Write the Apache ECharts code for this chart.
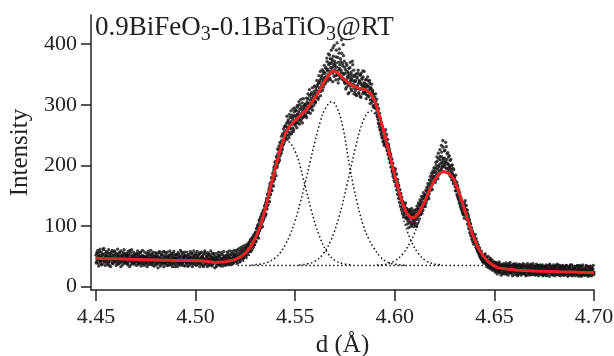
<!DOCTYPE html>
<html><head><meta charset="utf-8">
<script src="https://cdn.jsdelivr.net/npm/echarts@6/dist/echarts.min.js"></script>
<style>html,body{margin:0;padding:0;background:#fff}#c{width:614px;height:356px}</style>
</head><body><div id="c"></div>
<script>
// measured scan (two interleaved passes): d from start in steps of scanStep
const scanStart = 4.45;
const scanStep = 0.00025;
const intensity = [
52,41,47,55,44,38,49,58,45,42,50,36,47,53,43,61,46,40,48,55,
44,50,39,47,56,42,48,35,51,45,49,57,41,46,38,52,47,43,59,44,
48,40,53,45,37,50,44,55,42,47,33,51,46,49,41,56,45,39,50,47,
43,52,46,38,49,54,41,45,60,44,36,48,51,42,47,39,53,45,40,50,
46,41,55,43,48,37,52,44,49,40,57,45,38,47,51,43,35,50,46,42,
48,39,45,52,42,36,47,55,41,44,50,38,46,53,40,43,49,34,45,51,
42,47,38,51,44,40,56,43,37,48,45,41,52,39,46,43,58,40,44,49,
38,45,50,41,43,35,48,52,40,46,42,55,37,44,47,39,51,43,33,46,
47,41,44,53,39,45,36,49,42,50,44,38,57,43,40,46,35,48,52,41,
44,50,39,42,48,34,46,53,41,45,38,49,43,55,40,37,47,44,51,42,
40,46,52,43,37,49,44,41,54,39,45,48,36,50,43,47,33,46,42,56,
45,38,43,50,41,47,35,44,52,40,46,39,49,42,36,48,44,55,41,43,
39,46,42,35,48,43,40,51,37,45,41,53,38,44,47,34,42,49,40,46,
44,38,47,42,50,40,45,36,48,43,52,41,46,55,42,47,39,50,45,53,
46,52,43,49,55,44,50,47,58,45,53,49,61,48,55,51,46,59,53,57,
52,63,56,66,58,57,69,60,72,62,63,75,66,77,68,80,71,83,74,86,
76,89,81,95,85,99,90,104,94,108,100,113,103,117,108,122,112,127,118,132,
121,139,129,146,134,153,141,158,147,166,153,172,160,178,167,186,173,193,180,199,
188,207,196,213,200,219,205,225,211,229,216,236,220,241,228,233,250,236,255,243,
245,264,250,270,243,262,275,255,268,251,279,260,272,255,283,262,276,259,288,268,
282,265,290,271,284,296,270,288,277,300,281,273,294,286,303,279,291,284,298,288,
283,301,292,279,305,296,310,288,302,315,294,307,298,320,303,291,316,309,322,305,
318,305,325,312,331,318,309,336,322,340,326,315,343,331,349,324,338,355,333,345,
352,338,360,347,371,343,358,366,349,382,355,341,368,360,375,352,394,363,347,372,
364,348,379,355,402,351,370,342,385,360,347,376,357,407,344,368,352,381,339,362,
335,358,341,329,365,347,333,352,320,345,361,338,326,350,342,372,331,339,318,347,
322,340,331,315,346,327,352,335,318,338,325,349,312,333,344,329,356,321,336,330,
335,318,329,342,316,331,322,339,313,325,335,308,327,319,304,322,310,296,317,305,
312,298,305,287,296,280,291,270,285,263,277,258,266,250,262,245,256,240,249,236,
255,238,247,230,241,224,236,219,230,213,222,207,216,198,210,192,203,186,195,180,
190,174,184,168,176,163,172,157,166,150,160,145,154,139,148,133,141,128,136,122,
135,119,130,114,126,111,123,108,121,105,118,126,107,120,102,116,124,109,119,104,
106,121,110,124,99,127,115,130,117,134,122,137,125,141,128,145,131,148,135,151,
144,136,152,139,157,145,161,149,166,153,170,158,175,162,179,168,183,172,188,176,
181,195,176,200,188,207,193,183,211,198,190,215,203,194,222,205,197,230,208,199,
212,201,238,206,195,219,203,190,214,199,186,208,194,181,200,188,177,195,183,172,
181,165,174,158,169,152,163,147,158,142,151,137,146,131,141,126,136,121,130,118,
138,124,133,117,127,111,121,105,115,100,108,94,103,88,97,83,92,79,87,74,
82,71,77,65,73,61,69,58,65,54,61,51,57,48,54,45,52,43,49,41,
51,43,47,39,46,36,44,40,35,42,33,39,45,31,37,34,40,29,36,33,
30,37,27,34,25,39,31,28,35,23,32,38,26,30,34,22,29,36,27,31,
33,24,30,36,21,28,34,26,31,38,23,29,32,25,35,27,22,30,37,26,
24,31,27,35,22,29,33,20,28,36,25,30,23,34,27,21,32,26,38,24,
29,22,33,26,19,31,27,35,24,28,21,32,25,37,23,30,27,20,34,26,
23,30,26,33,20,28,35,24,29,22,31,27,36,21,26,32,24,29,19,33,
27,21,32,25,30,18,28,34,23,29,26,37,22,31,24,28,20,33,26,30,
22,29,25,34,20,27,31,23,36,26,19,30,24,28,33,21,27,35,23,29,
26,20,31,24,28,35,22,27,19,30,25,33,21,29,24,36,18,27,31,23,
25,31,21,28,24,34,19,26,30,22,27,35,20,25,29,17,28,32,23,26,
22,28,19,31,25,21,27,33,20,26,23,30,18,27,24,32,21,25,29,22,
24
];
const scan2Start = 4.450125;
const intensity2 = [
39,56,45,60,50,34,53,44,62,41,57,48,37,54,46,63,42,51,35,49,
58,43,52,36,47,61,40,55,49,33,54,45,60,38,50,44,57,41,53,47,
35,55,48,62,42,51,38,57,46,40,59,43,52,36,54,47,61,44,39,53,
55,40,49,36,58,45,52,33,47,56,42,61,39,50,45,57,37,48,54,41,
52,35,47,59,40,54,44,38,56,48,34,51,43,60,39,50,46,57,37,49,
40,55,33,49,58,45,38,52,43,60,36,47,54,41,57,35,50,44,39,56,
50,36,55,44,31,49,42,58,47,34,53,40,56,45,37,51,33,48,57,39,
54,41,35,57,46,50,39,44,59,36,52,43,49,33,55,42,58,38,47,53,
36,52,48,33,56,41,54,39,47,60,35,51,44,38,55,49,42,57,34,50,
51,38,57,45,34,53,40,49,36,58,47,42,55,33,50,44,59,37,52,46,
55,35,44,58,48,38,53,41,33,56,46,39,57,43,51,35,54,40,59,45,
37,53,49,33,56,40,54,45,36,51,59,42,34,55,47,38,53,44,31,50,
48,33,55,44,38,51,57,36,49,42,34,56,46,39,53,43,58,37,50,41,
35,52,40,57,37,54,47,59,39,52,45,36,58,47,38,55,51,60,42,49,
58,41,60,47,39,62,53,44,50,64,42,57,51,66,46,59,63,49,68,52,
64,49,61,70,53,68,57,74,64,58,78,67,60,81,72,65,85,76,69,88,
90,74,96,83,101,88,80,110,92,100,115,97,120,106,99,125,110,118,133,115,
136,119,143,128,152,135,147,162,140,170,152,164,180,158,175,188,166,197,177,205,
201,183,215,197,227,204,214,232,208,238,220,231,248,225,252,234,260,241,264,248,
266,244,258,281,250,272,263,246,284,261,270,290,252,279,268,293,256,281,270,295,
270,291,279,262,299,284,275,305,268,292,283,309,276,297,270,289,310,280,294,301,
299,282,311,295,287,318,302,293,325,300,286,317,311,296,328,305,312,299,331,318,
303,329,314,340,322,334,312,348,328,337,355,322,346,333,358,341,329,352,365,344,
335,361,345,377,356,339,384,351,369,344,376,362,390,353,371,338,380,366,398,358,
368,341,390,362,349,378,336,357,392,366,345,371,353,385,342,364,399,350,372,337,
352,326,368,337,355,344,318,360,349,331,370,341,354,323,346,366,334,357,327,349,
338,317,351,326,344,331,357,320,340,349,314,336,352,326,342,318,346,333,355,321,
320,341,310,333,324,346,315,330,321,340,302,328,316,334,308,324,299,318,311,295,
300,318,293,309,283,300,276,294,268,286,259,278,253,270,246,264,239,257,233,250,
244,259,233,251,225,243,218,234,211,226,204,219,197,211,189,204,182,196,175,189,
179,194,169,186,160,177,152,168,145,160,138,153,131,146,125,139,119,134,115,130,
125,138,113,129,103,125,116,97,127,112,124,99,117,129,104,121,111,99,126,112,
118,101,127,112,133,104,123,138,110,128,143,119,134,149,121,139,126,155,132,145,
150,132,159,143,164,148,170,155,145,176,160,182,165,187,171,160,191,177,196,181,
190,172,205,184,214,196,178,220,201,186,226,209,192,233,214,199,241,211,203,224,
225,205,196,231,210,189,221,202,194,216,197,182,210,190,176,201,185,170,193,178,
175,158,184,163,172,150,166,145,160,138,155,133,148,128,143,123,139,119,134,113,
129,142,120,134,111,126,103,118,96,111,89,104,84,97,78,90,74,85,70,81,
76,86,69,79,63,74,58,69,55,64,50,60,47,56,44,53,41,50,39,47,
45,54,38,49,33,44,38,50,31,42,36,47,29,40,35,44,27,38,32,41,
35,24,40,28,33,21,37,30,26,41,24,33,29,19,36,27,32,22,38,28,
21,34,27,39,23,31,36,19,29,33,25,40,22,30,26,35,18,31,28,37,
33,20,29,38,24,35,18,31,27,22,37,26,33,19,30,36,23,28,34,21,
22,36,27,18,32,25,38,21,30,34,19,28,24,35,20,31,26,38,22,29,
34,19,29,24,37,21,32,27,18,35,25,30,20,33,28,23,36,18,31,26,
20,33,24,36,19,31,26,22,35,28,17,32,27,21,34,23,30,19,36,25,
31,18,34,26,23,37,20,29,25,32,22,35,18,30,26,21,33,24,19,32,
19,32,23,35,21,29,26,17,33,24,31,20,36,23,28,19,34,25,22,30,
30,18,33,22,27,20,35,24,29,17,32,23,26,34,19,28,22,36,21,27,
19,31,24,27,35,22,28,17,33,25,20,29,34,22,26,18,30,23,35,20
];

// fitted curve (red)
const fitD = [4.450,4.455,4.460,4.470,4.480,4.490,4.500,4.505,4.510,4.515,4.518,4.520,4.5225,4.525,4.5275,4.530,4.5325,4.535,4.5375,4.540,4.5425,4.545,4.5475,4.550,4.5525,4.555,4.5575,4.560,4.5625,4.565,4.5675,4.569,4.5715,4.574,4.5765,4.579,4.582,4.5855,4.588,4.590,4.592,4.594,4.596,4.598,4.600,4.602,4.604,4.606,4.608,4.610,4.6125,4.615,4.6175,4.620,4.6225,4.6245,4.627,4.6295,4.632,4.6345,4.637,4.6395,4.642,4.6445,4.647,4.6495,4.652,4.656,4.662,4.670,4.678,4.685,4.690,4.700];
const fitI = [47,46,46,45,44,43,43,42,40,41,43,45,49,55,65,80,100,128,163,195,226,252,266,274,282,290,300,312,325,340,352,356,352,344,337,331,327,325,318,306,285,262,236,210,183,158,136,121,114,114,124,140,160,176,187,190,187,178,158,132,106,82,63,50,41,35,31,29,27,26,25,24,24,23];

// peak components (dotted)
const comp1D = [4.518,4.522,4.526,4.530,4.534,4.538,4.542,4.546,4.550,4.554,4.558,4.562,4.566,4.570,4.574,4.578];
const comp1I = [36,39,48,70,111,167,218,240,223,179,127,85,57,43,38,36];
const comp2D = [4.528,4.532,4.536,4.540,4.5425,4.545,4.5475,4.550,4.5525,4.555,4.5575,4.560,4.5625,4.565,4.5685,4.571,4.574,4.5775,4.581,4.584,4.587,4.5895,4.5925,4.596,4.600,4.605];
const comp2I = [35.5,37,40,47.5,56,69,86,109,138,171,206,240,271,293,305,295,262,195,140,103,78,64,50,41,37,35.3];
const comp3D = [4.552,4.556,4.560,4.564,4.568,4.572,4.576,4.580,4.584,4.588,4.592,4.596,4.600,4.604,4.608,4.612,4.616,4.620,4.624];
const comp3I = [35.7,37.5,42,54,77,115,168,226,272,290,272,226,168,115,77,54,42,37.5,35.7];
const comp4D = [4.591,4.5955,4.600,4.604,4.608,4.612,4.616,4.620,4.6245,4.629,4.633,4.637,4.641,4.645,4.649,4.6535,4.658];
const comp4I = [35.6,37,42.7,54,75,106,143,175,190,175,143,106,75,54,42.7,37,35.6];
const baseD = [4.521,4.700];
const baseI = [35,35];

const xTicks = [4.45,4.50,4.55,4.60,4.65,4.70];
const yTicks = [0,100,200,300,400];
const titleParts = ['0.9BiFeO','3','-0.1BaTiO','3','@RT'];
const xName = 'd (Å)';
const yName = 'Intensity';

const zip = (a,b) => a.map((v,i)=>[v,b[i]]);
const scatterData = intensity.map((v,i)=>[+(scanStart + i*scanStep).toFixed(6), v])
  .concat(intensity2.map((v,i)=>[+(scan2Start + i*scanStep).toFixed(6), v]));

const FONT = "'Liberation Serif','Times New Roman',serif";
const INK = '#222';
const dotted = {type:[1.5,2.5], width:1.5, color:'#111'};
const compSeries = [[comp1D,comp1I],[comp2D,comp2I],[comp3D,comp3I],[comp4D,comp4I],[baseD,baseI]].map(([d,v]) => ({
  type:'line', data: zip(d,v), symbol:'none', smooth: 0.4, silent:true, z:1,
  lineStyle: dotted
}));

const chart = echarts.init(document.getElementById('c'), null, {renderer:'canvas'});
chart.setOption({
  animation:false,
  backgroundColor:'#fff',
  title:{
    text: `{a|${titleParts[0]}}{s|${titleParts[1]}}{a|${titleParts[2]}}{s|${titleParts[3]}}{a|${titleParts[4]}}`,
    left:95, top:11, padding:0,
    textStyle:{fontWeight:'normal', rich:{
      a:{fontFamily:FONT, fontSize:27, fontWeight:'normal', lineHeight:34, color:INK},
      s:{fontFamily:FONT, fontSize:20, fontWeight:'normal', lineHeight:19, verticalAlign:'bottom', color:INK}
    }}
  },
  grid:{left:91, right:20, top:15, bottom:66, containLabel:false, outerBoundsMode:'none'},
  xAxis:{
    type:'value', min:4.4475, max:4.70,
    name:xName, nameLocation:'middle', nameGap:43,
    nameTextStyle:{fontFamily:FONT, fontSize:25, color:INK},
    axisLine:{show:true, onZero:false, lineStyle:{color:INK, width:1.5}},
    axisTick:{show:true, inside:false, length:11, customValues:xTicks, lineStyle:{color:INK, width:1.5}},
    axisLabel:{customValues:xTicks, margin:16, fontFamily:FONT, fontSize:22, color:INK,
      formatter:v=>v.toFixed(2)},
    splitLine:{show:false}
  },
  yAxis:{
    type:'value', min:-5.5, max:448,
    name:yName, nameLocation:'middle', nameGap:50,
    nameTextStyle:{fontFamily:FONT, fontSize:25, color:INK},
    axisLine:{show:true, onZero:false, lineStyle:{color:INK, width:1.5}},
    axisTick:{show:true, inside:false, length:10, customValues:yTicks, lineStyle:{color:INK, width:1.5}},
    axisLabel:{customValues:yTicks, margin:14, fontFamily:FONT, fontSize:22, color:INK},
    splitLine:{show:false}
  },
  series:[
    ...compSeries,
    {type:'scatter', data:scatterData, symbol:'circle', symbolSize:3.3, silent:true, z:2,
     itemStyle:{color:'#111'}},
    {type:'line', data:zip(fitD,fitI), symbol:'none', silent:true, z:3,
     lineStyle:{color:'#e8262a', width:3}}
  ]
});
</script></body></html>
